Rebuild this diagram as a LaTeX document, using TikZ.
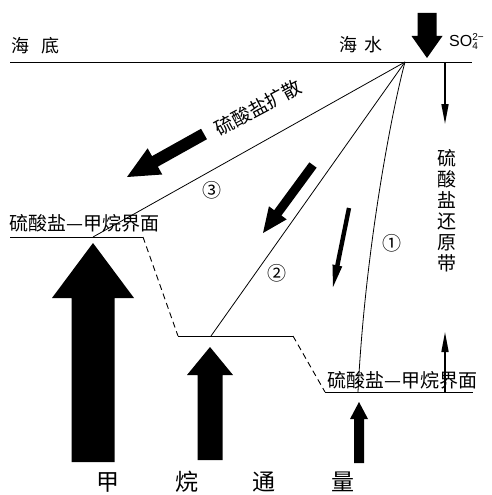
\documentclass[tikz,border=0pt]{standalone}
\usepackage{fontspec}
\setmainfont{Liberation Sans}
\newfontfamily\cjk{Noto Sans CJK SC}
\usetikzlibrary{calc,arrows.meta}
\newcommand{\barrow}[5]{% tail, tip, shaft half width, head half width, head length
  \coordinate (bT) at (#1);
  \coordinate (bP) at (#2);
  \coordinate (bB) at ($(bP)!#5!(bT)$);
  \fill ($(bT)!#3!90:(bP)$) -- ($(bB)!#3!90:(bP)$) -- ($(bB)!#4!90:(bP)$) -- (bP)
    -- ($(bB)!#4!-90:(bP)$) -- ($(bB)!#3!-90:(bP)$) -- ($(bT)!#3!-90:(bP)$) -- cycle;
}
\newcommand{\ionsub}[2]{\rlap{\raisebox{-3.5pt}{\fontsize{10}{10}\selectfont #1}}\raisebox{5.5pt}{\fontsize{10}{10}\selectfont #2}}
\tikzset{
  boundary/.style={line width=0.9pt},
  dashbound/.style={line width=0.9pt, dash pattern=on 6pt off 4pt},
  ray/.style={line width=0.8pt},
  thinarrow/.style={line width=1.6pt, -{Triangle[length=20pt,width=7pt]}},
  lbl/.style={font=\cjk\fontsize{19}{21}\selectfont, inner sep=0pt},
  toplbl/.style={font=\cjk\fontsize{18}{20}\selectfont, inner sep=0pt},
  numlbl/.style={font=\cjk\fontsize{19}{21}\selectfont, inner sep=0pt},
  fluxlbl/.style={font=\cjk\fontsize{23}{25}\selectfont, inner sep=0pt},
}
\begin{document}
\begin{tikzpicture}[x=1pt,y=-1pt]
\useasboundingbox (0,0) rectangle (492,495);
% key points
\coordinate (src) at (405,62);
\coordinate (sfL) at (10,62);
\coordinate (sfR) at (472,62);
\coordinate (iL1) at (10,237);
\coordinate (iL2) at (143,237);
\coordinate (iM1) at (178,336);
\coordinate (iM2) at (293,336);
\coordinate (iR1) at (325,392);
\coordinate (iR2) at (473,392);
\coordinate (e3) at (93,237);
\coordinate (e2) at (211,336);
\coordinate (e1) at (358,392);
% seafloor
\draw[boundary] (sfL) -- (sfR);
% interfaces
\draw[boundary] (iL1) -- (iL2);
\draw[dashbound] (iL2) -- (iM1);
\draw[boundary] (iM1) -- (iM2);
\draw[dashbound] (iM2) -- (iR1);
\draw[boundary] (iR1) -- (iR2);
% profiles
\draw[ray] (src) -- (e3);
\draw[ray] (src) -- (e2);
\draw[ray] (src) .. controls (392,110) and (365,250) .. (e1);
% labels top
\node[toplbl, anchor=west] (hd) at (11,46) {海\hspace{12pt}底};
\node[toplbl] (hs) at (361,45) {海\hspace{8pt}水};
\node[inner sep=0pt, anchor=west, font=\fontsize{16}{18}\selectfont] (so4) at (449,42) {SO\ionsub{4}{2−}};
% big down arrow
\coordinate (a0t) at (427,13);
\coordinate (a0p) at (427,58);
\barrow{a0t}{a0p}{9.5pt}{15.5pt}{22pt}
% thin down/up arrows at right
\coordinate (a1t) at (445,63);
\coordinate (a1p) at (445,124);
\draw[thinarrow] (a1t) -- (a1p);
\coordinate (a2t) at (445,392);
\coordinate (a2p) at (445,332);
\draw[thinarrow] (a2t) -- (a2p);
% diagonal arrows
\coordinate (d3t) at (204,134);
\coordinate (d3p) at (127,177);
\barrow{d3t}{d3p}{6pt}{15pt}{32pt}
\coordinate (d2t) at (313,165);
\coordinate (d2p) at (263,233);
\barrow{d2t}{d2p}{4.5pt}{11pt}{25pt}
\coordinate (d1t) at (349,208);
\coordinate (d1p) at (333,287);
\barrow{d1t}{d1p}{2.2pt}{5pt}{22pt}
% up arrows (methane flux)
\coordinate (u1t) at (93,462);
\coordinate (u1p) at (93,243);
\barrow{u1t}{u1p}{21.5pt}{41pt}{55pt}
\coordinate (u2t) at (210,460);
\coordinate (u2p) at (210,347);
\barrow{u2t}{u2p}{12.5pt}{23pt}{28pt}
\coordinate (u3t) at (359,463);
\coordinate (u3p) at (359,402);
\barrow{u3t}{u3p}{5pt}{9pt}{17pt}
% texts
\node[lbl, rotate=28] (kuosan) at (258,108) {硫酸盐扩散};
\node[numlbl] (n3) at (212,190) {③};
\node[numlbl] (n2) at (277,273) {②};
\node[numlbl] (n1) at (392,243) {①};
\node[lbl, align=center] (zone) at (447,211) {硫\\酸\\盐\\还\\原\\带};
\node[lbl, anchor=west] (ifL) at (9,223) {硫酸盐—甲烷界面};
\node[lbl, anchor=west] (ifR) at (327,380) {硫酸盐—甲烷界面};
\node[fluxlbl] (f1) at (108,482) {甲};
\node[fluxlbl] (f2) at (187,482) {烷};
\node[fluxlbl] (f3) at (264,482) {通};
\node[fluxlbl] (f4) at (343,482) {量};
\end{tikzpicture}
\end{document}
